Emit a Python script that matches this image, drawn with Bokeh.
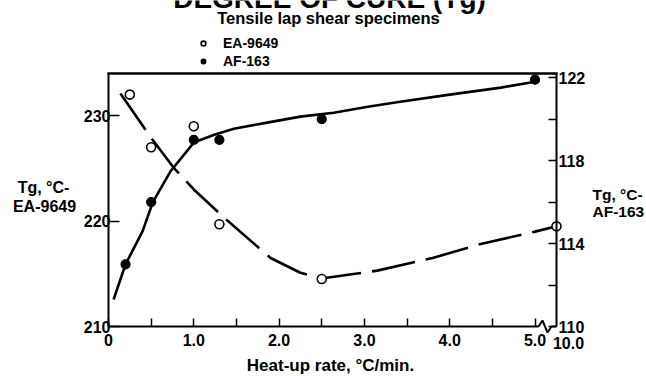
from bokeh.plotting import figure
from bokeh.models import (Range1d, LinearAxis, FixedTicker, Label, Legend,
                          LegendItem, ColumnDataSource, BoxAnnotation)
from bokeh.embed import file_html
from bokeh.resources import INLINE

# ---------------- data ----------------
ea_rate = [0.25, 0.5, 1.0, 1.3, 2.5, 10.0]
ea_tg = [232.0, 227.0, 229.0, 219.7, 214.5, 219.5]

af_rate = [0.2, 0.5, 1.0, 1.3, 2.5, 5.0]
af_tg = [113.0, 116.0, 119.0, 119.0, 120.0, 121.9]

ea_fit_rate = [0.14, 0.5, 0.76, 1.0, 1.4, 1.9, 2.25, 2.5, 2.85, 3.15, 3.8, 4.35, 5.0, 10.0]
ea_fit_tg = [232.1, 227.9, 225.1, 223.0, 220.0, 216.5, 215.1, 214.55, 214.95, 215.3, 216.5, 217.8, 219.0, 219.5]

af_fit_rate = [0.06, 0.2, 0.4, 0.52, 0.73, 1.0, 1.24, 1.47, 1.86, 2.25, 2.64, 3.04, 3.42, 4.0, 4.6, 5.0]
af_fit_tg = [111.3, 113.0, 114.6, 116.0, 117.5, 118.87, 119.25, 119.54, 119.83, 120.12, 120.31, 120.6, 120.84, 121.18, 121.52, 121.8]

x_major_ticks = [0, 1, 2, 3, 4, 5]
x_minor_ticks = [0.5, 1.5, 2.5, 3.5, 4.5]
x_tick_labels = ["0", "1.0", "2.0", "3.0", "4.0", "5.0"]
x_break_label = "10.0"
left_ticks = [210, 220, 230]
right_major_ticks = [110, 114, 118, 122]
right_minor_ticks = [112, 116, 120]

title_text = "DEGREE OF CURE (Tg)"
subtitle_text = "Tensile lap shear specimens"
x_title = "Heat-up rate, \u00b0C/min."
left_title = ["Tg, \u00b0C-", "EA-9649"]
right_title = ["Tg, \u00b0C-", "AF-163"]
series_names = ["EA-9649", "AF-163"]

# ---------------- axis extents ----------------
BREAK_AT = 5.0
AXIS_END_VALUE = 10.0
X_START, X_END = 0.0, 5.252
L_BOTTOM, L_TOP = 210.0, 234.0      # left axis (EA-9649)
R_BOTTOM, R_TOP = 110.0, 122.2      # right axis (AF-163)

# ---------------- layout (pixels) ----------------
W, H = 646, 376
BOX_L, BOX_R, BOX_T, BOX_B = 108, 556, 73, 326   # plot box edges on the canvas
BREAK_PX = 538                                   # where the x axis line breaks
EDGE_PX = 2                                      # thickness of the box top edge

PX_X = (BOX_R - BOX_L) / (X_END - X_START)
PX_L = (BOX_B - BOX_T) / (L_TOP - L_BOTTOM)
PX_R = (BOX_B - BOX_T) / (R_TOP - R_BOTTOM)


def dx(sx):
    return X_START + (sx - BOX_L) / PX_X


def dy(sy):
    return L_BOTTOM + (BOX_B - sy) / PX_L


def ry(sy):
    return R_BOTTOM + (BOX_B - sy) / PX_R


def xpos(v):
    if v <= BREAK_AT:
        return v
    return BREAK_AT + (v - BREAK_AT) * (X_END - BREAK_AT) / (AXIS_END_VALUE - BREAK_AT)


FONT = "Liberation Sans"

# the frame covers the whole canvas; the axes sit at fixed data locations
p = figure(width=W, height=H, output_backend="svg", toolbar_location=None,
           x_range=Range1d(dx(0), dx(W)), y_range=Range1d(dy(H), dy(0)),
           min_border=0, min_border_left=0, min_border_right=0,
           min_border_top=0, min_border_bottom=0)
p.extra_y_ranges = {"af": Range1d(ry(H), ry(0))}
p.xgrid.visible = False
p.ygrid.visible = False
p.background_fill_color = "white"
p.border_fill_color = "white"
p.outline_line_color = None


def style_axis(ax, tick_in, standoff):
    ax.axis_line_color = "black"
    ax.axis_line_width = 2
    ax.major_tick_line_color = "black"
    ax.major_tick_line_width = 1.5
    ax.minor_tick_line_color = "black"
    ax.minor_tick_line_width = 1.5
    ax.major_tick_in = tick_in
    ax.major_tick_out = 0
    ax.minor_tick_in = tick_in
    ax.minor_tick_out = 0
    ax.major_label_standoff = standoff
    ax.major_label_text_font = FONT
    ax.major_label_text_font_style = "bold"
    ax.major_label_text_font_size = "16px"
    ax.major_label_text_color = "black"


xa = p.xaxis[0]
xa.fixed_location = L_BOTTOM
xa.bounds = (X_START, dx(BREAK_PX))
xa.ticker = FixedTicker(ticks=x_major_ticks, minor_ticks=x_minor_ticks)
xa.major_label_overrides = {t: s for t, s in zip(x_major_ticks, x_tick_labels)}
style_axis(xa, 8, 7)

ya = p.yaxis[0]
ya.fixed_location = X_START
ya.bounds = (L_BOTTOM, L_TOP)
ya.ticker = FixedTicker(ticks=left_ticks, minor_ticks=[])
style_axis(ya, 11, -2)

ra = LinearAxis(y_range_name="af", fixed_location=X_END, bounds=(R_BOTTOM, R_TOP),
                ticker=FixedTicker(ticks=right_major_ticks, minor_ticks=right_minor_ticks))
style_axis(ra, 8, 2)
p.add_layout(ra, "right")

# top edge of the plot box
p.quad(left=[dx(BOX_L - 1)], right=[dx(BOX_R + 1)],
       bottom=[dy(BOX_T + EDGE_PX / 2)], top=[dy(BOX_T - EDGE_PX / 2)],
       fill_color="black", fill_alpha=1.0, line_color=None)
p.add_layout(BoxAnnotation(left=dx(BOX_L - 1), right=dx(BOX_R + 1),
                           bottom=dy(BOX_T + EDGE_PX / 2), top=dy(BOX_T - EDGE_PX / 2),
                           fill_color="black", fill_alpha=1.0, line_color=None))

# axis break mark between 5.0 and 10.0
brk_x = [dx(BREAK_PX), dx(BREAK_PX + 4), dx(BREAK_PX + 9), dx(BREAK_PX + 13), dx(BOX_R)]
brk_y = [dy(BOX_B), dy(BOX_B - 6), dy(BOX_B + 6), dy(BOX_B), dy(BOX_B)]
p.line(brk_x, brk_y, line_color="black", line_width=2)

# ---------------- curves ----------------
ea_fit = ColumnDataSource(dict(x=[xpos(v) for v in ea_fit_rate], y=ea_fit_tg))
af_fit = ColumnDataSource(dict(x=[xpos(v) for v in af_fit_rate], y=af_fit_tg))
p.line("x", "y", source=ea_fit, line_color="black", line_width=2.6, line_dash="44 11")
p.line("x", "y", source=af_fit, line_color="black", line_width=2.6, y_range_name="af")

ea_src = ColumnDataSource(dict(x=[xpos(v) for v in ea_rate], y=ea_tg))
af_src = ColumnDataSource(dict(x=[xpos(v) for v in af_rate], y=af_tg))
ea_r = p.scatter("x", "y", source=ea_src, marker="circle", size=9,
                 fill_color="white", line_color="black", line_width=1.6)
af_r = p.scatter("x", "y", source=af_src, marker="circle", size=9,
                 fill_color="black", line_color="black", line_width=1.2,
                 y_range_name="af")

legend = Legend(items=[LegendItem(label=series_names[0], renderers=[ea_r]),
                       LegendItem(label=series_names[1], renderers=[af_r])],
                location=(197, H - 70), orientation="vertical",
                padding=0, margin=0, spacing=0,
                glyph_width=12, glyph_height=18, label_height=18,
                label_standoff=14,
                label_text_font=FONT, label_text_font_style="bold",
                label_text_font_size="14px", label_text_color="black",
                background_fill_alpha=0, border_line_alpha=0)
p.add_layout(legend)


def add_text(text, sx, sy, size, align="center"):
    # sy: vertical centre of the capitals on the canvas
    p.add_layout(Label(x=dx(sx), y=dy(sy), text=text, text_align=align,
                       text_baseline="alphabetic", text_font=FONT,
                       text_font_style="bold", text_font_size=size,
                       text_color="black"))


add_text(title_text, 329, -2, "28px")
add_text(subtitle_text, 328, 17, "16.5px")
add_text(left_title[0], 43, 187, "16px")
add_text(left_title[1], 44, 205.5, "16px")
add_text(right_title[0], 592, 193.5, "15.5px", "left")
add_text(right_title[1], 592, 211, "15.5px", "left")
add_text(x_title, 330, 365, "17px")
add_text(x_break_label, 568, 342, "16px")

open("out.html", "w").write(file_html(p, INLINE))
